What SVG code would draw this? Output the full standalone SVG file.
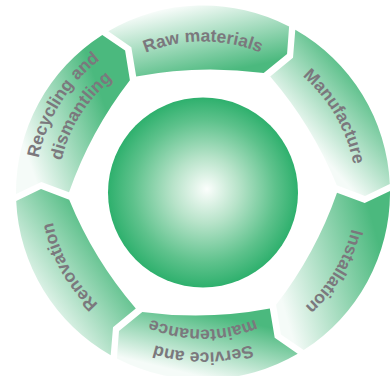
<svg xmlns="http://www.w3.org/2000/svg" xmlns:xlink="http://www.w3.org/1999/xlink" width="390" height="376" viewBox="0 0 390 376">
<style>
.lbl{font-family:"Liberation Sans",Arial,sans-serif;font-weight:bold;font-size:17.5px;fill:#7b787d;}
</style>
<defs>
<radialGradient id="gc" gradientUnits="userSpaceOnUse" cx="203" cy="192.5" r="95" fx="207" fy="189">
<stop offset="0" stop-color="#fbfefc"/>
<stop offset="0.35" stop-color="#b7e3c9"/>
<stop offset="0.75" stop-color="#5ec28c"/>
<stop offset="1" stop-color="#2eb06d"/>
</radialGradient>
<linearGradient id="g-raw" gradientUnits="userSpaceOnUse" x1="190" y1="5" x2="205" y2="76"><stop offset="0" stop-color="#f5fbf8"/><stop offset="1" stop-color="#4bb97e"/></linearGradient>
<linearGradient id="g-man" gradientUnits="userSpaceOnUse" x1="282" y1="110" x2="345" y2="55"><stop offset="0" stop-color="#f5fbf8"/><stop offset="1" stop-color="#4bb97e"/></linearGradient>
<linearGradient id="g-ins" gradientUnits="userSpaceOnUse" x1="280" y1="295" x2="385" y2="265"><stop offset="0" stop-color="#f5fbf8"/><stop offset="1" stop-color="#4bb97e"/></linearGradient>
<linearGradient id="g-ser" gradientUnits="userSpaceOnUse" x1="190" y1="374" x2="205" y2="312"><stop offset="0" stop-color="#f5fbf8"/><stop offset="1" stop-color="#4bb97e"/></linearGradient>
<linearGradient id="g-ren" gradientUnits="userSpaceOnUse" x1="35" y1="305" x2="115" y2="250"><stop offset="0" stop-color="#f5fbf8"/><stop offset="1" stop-color="#4bb97e"/></linearGradient>
<linearGradient id="g-rec" gradientUnits="userSpaceOnUse" x1="25" y1="150" x2="110" y2="120"><stop offset="0" stop-color="#f5fbf8"/><stop offset="1" stop-color="#4bb97e"/></linearGradient>
<path id="t-raw" d="M54.29,166.28 A151,151 0 0 1 351.71,166.28"/>
<path id="t-man" d="M150.67,48.73 A153,153 0 0 1 301.35,309.70"/>
<path id="t-ins" d="M303.38,77.03 A153,153 0 0 1 148.17,335.34"/>
<path id="t-ser1" d="M360.57,220.28 A160,160 0 0 1 45.43,220.28"/>
<path id="t-ser2" d="M337.92,216.29 A137,137 0 0 1 68.08,216.29"/>
<path id="t-ren" d="M252.81,337.16 A153,153 0 0 1 106.71,73.60"/>
<path id="t-rec1" d="M90.59,317.35 A168,168 0 0 1 265.93,36.73"/>
<path id="t-rec2" d="M105.98,300.26 A145,145 0 0 1 257.32,58.06"/>
</defs>
<rect width="390" height="376" fill="#ffffff"/>
<g id="hub">
<circle cx="203" cy="192.5" r="95" fill="url(#gc)"/>
</g>
<g id="raw-materials">
<path d="M108.3,31.3 A187,187 0 0 1 289.1,26.5 L287.05,54.0 L263.7,73.0 A398,398 0 0 0 136.2,76.4 L131.35,47.2 Z" fill="url(#g-raw)"/>
<text class="lbl" text-anchor="middle"><textPath xlink:href="#t-raw" href="#t-raw" startOffset="50%">Raw materials</textPath></text>
</g>
<g id="manufacture">
<path d="M295.3,29.85 A187,187 0 0 1 389.8,184.1 L365.0,196.0 L336.8,185.3 A398,398 0 0 0 270.2,76.55 L293.0,57.8 Z" fill="url(#g-man)"/>
<text class="lbl" text-anchor="middle"><textPath xlink:href="#t-man" href="#t-man" startOffset="50%">Manufacture</textPath></text>
</g>
<g id="installation">
<path d="M390.0,191.1 A187,187 0 0 1 303.7,350.1 L280.9,334.5 L276.1,304.8 A398,398 0 0 0 337.0,192.7 L364.7,203.1 Z" fill="url(#g-ins)"/>
<text class="lbl" text-anchor="middle"><textPath xlink:href="#t-ins" href="#t-ins" startOffset="50%">Installation</textPath></text>
</g>
<g id="service">
<path d="M297.7,353.7 A187,187 0 0 1 116.9,358.5 L119.0,331.0 L142.3,312.0 A398,398 0 0 0 269.8,308.6 L274.7,337.8 Z" fill="url(#g-ser)"/>
<text class="lbl" text-anchor="middle"><textPath xlink:href="#t-ser1" href="#t-ser1" startOffset="50%">Service and</textPath></text>
<text class="lbl" text-anchor="middle"><textPath xlink:href="#t-ser2" href="#t-ser2" startOffset="50%">maintenance</textPath></text>
</g>
<g id="renovation">
<path d="M110.7,355.2 A187,187 0 0 1 16.2,200.9 L41.0,189.0 L69.2,199.7 A398,398 0 0 0 135.8,308.45 L113.0,327.2 Z" fill="url(#g-ren)"/>
<text class="lbl" text-anchor="middle"><textPath xlink:href="#t-ren" href="#t-ren" startOffset="50%">Renovation</textPath></text>
</g>
<g id="recycling">
<path d="M16.0,193.9 A187,187 0 0 1 102.3,34.9 L125.1,50.5 L129.9,80.2 A398,398 0 0 0 69.0,192.3 L41.35,181.9 Z" fill="url(#g-rec)"/>
<text class="lbl" text-anchor="middle"><textPath xlink:href="#t-rec1" href="#t-rec1" startOffset="50%">Recycling and</textPath></text>
<text class="lbl" text-anchor="middle"><textPath xlink:href="#t-rec2" href="#t-rec2" startOffset="50%">dismantling</textPath></text>
</g>
<g id="connectors"></g>
</svg>
